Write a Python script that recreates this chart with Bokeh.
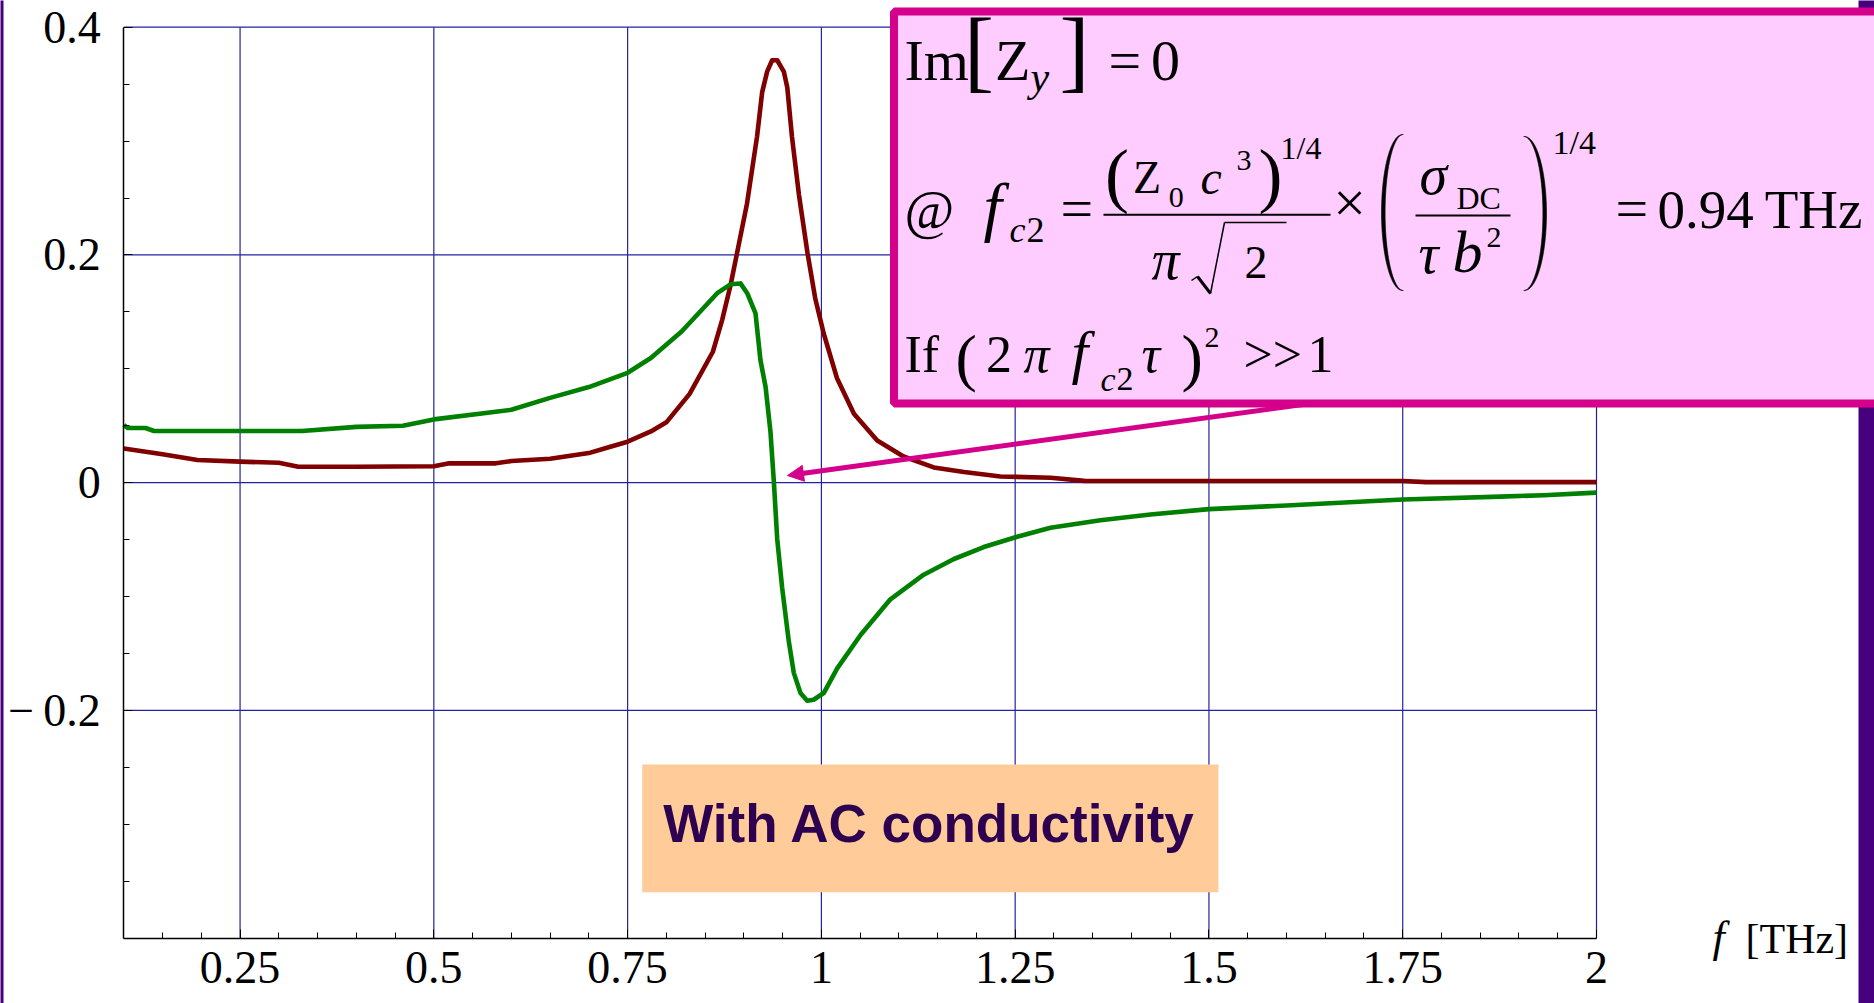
import numpy as np
from bokeh.plotting import figure
from bokeh.models import (Range1d, FixedTicker, Label, BoxAnnotation, PolyAnnotation,
                          Arrow, NormalHead)
from bokeh.embed import file_html
from bokeh.resources import INLINE

# ---------------- data ----------------
RED_X = [0.10, 0.15, 0.195, 0.25, 0.30, 0.325, 0.40, 0.50, 0.52, 0.58, 0.60, 0.65, 0.70, 0.72,
         0.75, 0.78, 0.80, 0.83, 0.86, 0.872, 0.883, 0.8935, 0.904, 0.917, 0.9236, 0.930,
         0.9365, 0.943, 0.9515, 0.956, 0.962, 0.971, 0.982, 0.992, 1.003, 1.020, 1.042,
         1.072, 1.106, 1.145, 1.184, 1.231, 1.296, 1.339, 1.40, 1.50, 1.60, 1.75, 1.78, 2.00]
RED_Y = [0.030, 0.025, 0.020, 0.0185, 0.0175, 0.014, 0.014, 0.0145, 0.017, 0.017, 0.019, 0.021,
         0.026, 0.030, 0.036, 0.045, 0.053, 0.078, 0.115, 0.143, 0.174, 0.2095, 0.245, 0.304,
         0.343, 0.361, 0.371, 0.371, 0.361, 0.347, 0.304, 0.253, 0.202, 0.162, 0.131, 0.092,
         0.0605, 0.037, 0.023, 0.0134, 0.0094, 0.0055, 0.0043, 0.0016, 0.0015, 0.0015, 0.0015,
         0.0015, 0.0005, 0.0005]

GREEN_X = [0.100, 0.105, 0.128, 0.139, 0.33, 0.40, 0.46, 0.50, 0.60, 0.65, 0.70, 0.75, 0.78,
           0.82, 0.844, 0.8656, 0.8827, 0.8956, 0.9043, 0.915, 0.9214, 0.928, 0.9343, 0.9386,
           0.943, 0.9494, 0.958, 0.9644, 0.973, 0.9817, 0.990, 1.003, 1.0204, 1.0505, 1.089,
           1.132, 1.171, 1.2095, 1.2526, 1.2956, 1.36, 1.4245, 1.50, 1.60, 1.75, 1.876, 1.932, 2.00]
GREEN_Y = [0.0507, 0.048, 0.048, 0.0454, 0.0454, 0.049, 0.050, 0.0556, 0.064, 0.0745, 0.084,
           0.0965, 0.1095, 0.133, 0.1506, 0.1664, 0.1742, 0.175, 0.1664, 0.1487, 0.1075, 0.084,
           0.0447, 0.0016, -0.0494, -0.0925, -0.1396, -0.167, -0.1847, -0.1914, -0.1906,
           -0.1847, -0.163, -0.1337, -0.1024, -0.0808, -0.067, -0.0565, -0.0475, -0.0396,
           -0.033, -0.0279, -0.0232, -0.020, -0.0148, -0.0122, -0.011, -0.0087]

XTICKS = [0.25, 0.5, 0.75, 1.0, 1.25, 1.5, 1.75, 2.0]
XTICK_LABELS = ["0.25", "0.5", "0.75", "1", "1.25", "1.5", "1.75", "2"]
XMINOR = [0.15, 0.2, 0.3, 0.35, 0.4, 0.45, 0.55, 0.6, 0.65, 0.7, 0.8, 0.85, 0.9, 0.95,
          1.05, 1.1, 1.15, 1.2, 1.3, 1.35, 1.4, 1.45, 1.55, 1.6, 1.65, 1.7, 1.8, 1.85, 1.9, 1.95]
YTICKS = [-0.2, 0, 0.2, 0.4]
YTICK_LABELS = ["\u2212\u20090.2", "0", "0.2", "0.4"]
YMINOR = [-0.35, -0.3, -0.25, -0.15, -0.1, -0.05, 0.05, 0.1, 0.15, 0.25, 0.3, 0.35]

# ---------------- layout ----------------
W, H = 1874, 1003
X0, X1, Y0, Y1 = 0.1, 2.0, -0.4, 0.4          # plotted box
PXL, PXR, PYT, PYB = 123.3, 1596.0, 26.7, 937.7  # its pixel edges on the page
SX = (X1 - X0) / (PXR - PXL)
SY = (Y1 - Y0) / (PYB - PYT)


def dx(px):
    return X0 + (px - PXL) * SX


def dy(py):
    return Y1 - (py - PYT) * SY


SERIF = "Liberation Serif"
SANS = "Liberation Sans"
MID = {SERIF: 0.3375, SANS: 0.3465}   # baseline offset below the text-box middle (em)
MAG = "#D4008C"
GRID = "#2323A0"

p = figure(width=W, height=H,
           x_range=Range1d(X0 - PXL * SX, X1 + (W - PXR) * SX),
           y_range=Range1d(Y0 - (H - PYB) * SY, Y1 + PYT * SY),
           output_backend="svg", toolbar_location=None)
p.min_border = 0
p.title.visible = False
p.background_fill_color = "white"
p.border_fill_color = "white"
p.outline_line_color = None
p.grid.visible = False

xa, ya = p.xaxis[0], p.yaxis[0]
xa.fixed_location = Y0
xa.bounds = (X0, X1)
ya.fixed_location = X0
ya.bounds = (Y0, Y1)
xa.ticker = FixedTicker(ticks=XTICKS, minor_ticks=XMINOR)
ya.ticker = FixedTicker(ticks=YTICKS, minor_ticks=YMINOR)
for ax in (xa, ya):
    ax.axis_line_color = "black"
    ax.axis_line_width = 1.5
    ax.major_tick_in = 9
    ax.major_tick_out = 0
    ax.minor_tick_in = 6
    ax.minor_tick_out = 0
    ax.major_tick_line_color = "black"
    ax.minor_tick_line_color = "black"
    ax.major_label_text_font = SERIF
    ax.major_label_text_color = "black"
    ax.major_label_text_font_size = "46px"
xa.major_label_overrides = {t: s for t, s in zip(XTICKS, XTICK_LABELS)}
xa.major_label_standoff = 14
ya.major_label_overrides = {t: s for t, s in zip(YTICKS, YTICK_LABELS)}
ya.major_label_standoff = 23

# grid lines at the major ticks, limited to the plotted box
p.segment(XTICKS, [Y0] * len(XTICKS), XTICKS, [Y1] * len(XTICKS),
          line_color=GRID, line_width=1.2)
p.segment([X0] * len(YTICKS), YTICKS, [X1] * len(YTICKS), YTICKS,
          line_color=GRID, line_width=1.2)

# ---------------- curves ----------------
p.line(RED_X, RED_Y, line_color="#800000", line_width=4.6, line_join="round")
p.line(GREEN_X, GREEN_Y, line_color="#008000", line_width=4.6, line_join="round")


def lab(text, px, base, size, style="normal", font=SERIF, align="left", color="black"):
    p.add_layout(Label(x=dx(px), y=dy(base - MID[font] * size), text=text, text_font=font,
                       text_font_size=f"{size}px", text_font_style=style,
                       text_align=align, text_baseline="middle", text_color=color))


def seg(px0, py0, px1, py1, w, color="black", end=None):
    p.add_layout(Arrow(x_start=dx(px0), y_start=dy(py0), x_end=dx(px1), y_end=dy(py1),
                       start=None, end=end, line_color=color, line_width=w))


def box(l, r, t, b, fill, line=None, lw=0):
    p.add_layout(BoxAnnotation(left=dx(l), right=dx(r), top=dy(t), bottom=dy(b),
                               fill_color=fill, fill_alpha=1,
                               line_color=line if line else fill, line_alpha=1 if line else 0,
                               line_width=lw, line_dash="solid"))


def paren(xe, w, yc, h, side):
    th = np.linspace(-np.pi / 2, np.pi / 2, 48)
    s = -1 if side == "left" else 1
    xo = xe + s * w * np.cos(th)
    xi = xe - s * 0.8 + s * (w - 2.8) * np.cos(th)
    ys = yc + h * np.sin(th)
    xs = np.concatenate([xo, xi[::-1]])
    yy = np.concatenate([ys, ys[::-1]])
    p.add_layout(PolyAnnotation(xs=[dx(v) for v in xs], ys=[dy(v) for v in yy],
                                fill_color="black", fill_alpha=1, line_color="black",
                                line_alpha=1, line_width=0.6))


# slide frame bars
box(1858, 1990, -50, 1100, "#46007E")
box(-20, 3, -50, 1100, "#46007E")

# orange note
box(641.7, 1217.9, 764, 891.7, "#FFCC99")
lab("With AC conductivity", 929, 841.7, 53, "bold", SANS, "center", "#2D0050")

# arrow to the zero crossing
seg(1345, 398.2, 787, 475, 5, MAG,
    NormalHead(size=16, fill_color=MAG, line_color=MAG))

# pink formula box
box(893.5, 1990, 11, 403, "#FFCCFF", MAG, 8)

# line 1: Im[Z_y] = 0
lab("Im", 904, 80, 58)
lab("[", 963.6, 80, 90)
lab("Z", 994.5, 80, 58)
lab("y", 1030, 91, 42, "italic")
lab("]", 1059, 80, 90)
lab("=", 1108, 80, 58)
lab("0", 1150.5, 80, 58)

# line 2
lab("@", 904, 228, 54)
lab("f", 983, 228, 66, "italic")
lab("c", 1009, 242, 36, "italic")
lab("2", 1026, 242, 36)
lab("=", 1060, 228, 58)
lab("(", 1104.5, 199, 72)
lab("Z", 1132.6, 193, 46)
lab("0", 1168.3, 207, 30)
lab("c", 1200, 193, 48, "italic")
lab("3", 1236, 170, 30)
lab(")", 1258, 199, 72)
lab("1/4", 1280, 158, 32)
seg(1103, 214.3, 1330, 214.3, 2)
lab("\u03c0", 1151, 278, 56, "italic")
seg(1191, 280, 1197, 276, 1.5)
seg(1197, 276, 1210, 293, 3)
seg(1210, 293, 1224, 222, 1.5)
seg(1224, 222, 1286, 222, 1.5)
lab("2", 1244, 278, 46)
lab("\u00d7", 1332.7, 222, 58)
paren(1402, 21, 212, 78, "left")
lab("\u03c3", 1419, 193, 56, "italic")
lab("DC", 1456, 208, 32)
seg(1415, 215, 1510, 215, 2)
lab("\u03c4", 1418, 272, 56, "italic")
lab("b", 1452, 272, 60, "italic")
lab("2", 1486, 247, 30)
paren(1524, 22, 213, 77, "right")
lab("1/4", 1552, 153, 34)
lab("=", 1615, 228, 58)
lab("0.94\u2009THz", 1657, 228, 55)

# line 3
lab("If", 904, 372, 52)
lab("(", 955, 379, 64)
lab("2", 985.5, 372, 52)
lab("\u03c0", 1023, 372, 52, "italic")
lab("f", 1071, 372, 60, "italic")
lab("c", 1100, 390, 34, "italic")
lab("2", 1116, 390, 34)
lab("\u03c4", 1141, 372, 52, "italic")
lab(")", 1181, 379, 64)
lab("2", 1204, 347, 30)
lab(">>", 1243, 372, 52)
lab("1", 1307, 372, 52)

# x axis title
lab("f", 1712, 952, 44, "italic")
lab("[THz]", 1745, 953, 42)

open("out.html", "w").write(file_html(p, INLINE))
